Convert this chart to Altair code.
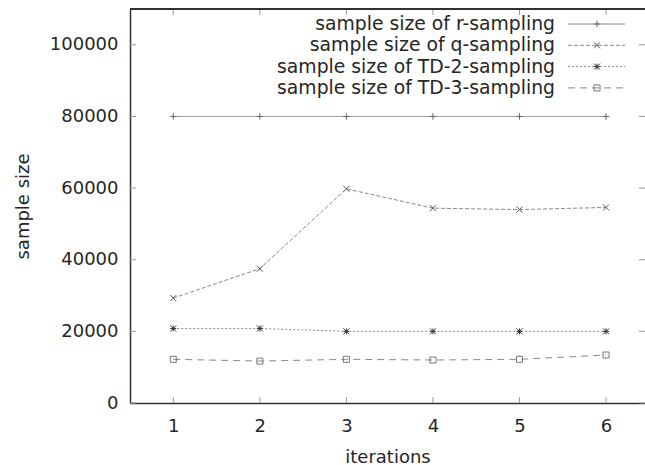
import altair as alt
import pandas as pd

# Sample sizes per iteration for each sampling method
iterations = [1, 2, 3, 4, 5, 6]
r_sampling = [80000, 80000, 80000, 80000, 80000, 80000]
q_sampling = [29300, 37500, 59800, 54400, 54000, 54600]
td2_sampling = [20800, 20800, 20000, 20000, 20000, 20000]
td3_sampling = [12200, 11700, 12200, 12000, 12200, 13400]

series_names = [
    "sample size of  r-sampling",
    "sample size of q-sampling",
    "sample size of TD-2-sampling",
    "sample size of TD-3-sampling",
]
series_values = [r_sampling, q_sampling, td2_sampling, td3_sampling]

y_ticks = [0, 20000, 40000, 60000, 80000, 100000]
x_ticks = [1, 2, 3, 4, 5, 6]

W, H = 515, 394
FONT = "DejaVu Sans"
FS = 18
TEXT = "#262626"
LINE = "#8a8a8a"

# point symbols as stroked SVG paths
plus = "M-1,0L1,0M0,-1L0,1"
cross = "M-1,-1L1,1M-1,1L1,-1"
star = "M-1,0L1,0M0,-1L0,1M-1,-1L1,1M-1,1L1,-1"
square = "M-1,-1L1,-1L1,1L-1,1Z"
styles = [
    dict(dash=[1, 0], shape=plus, mcolor="#666666", size=42),
    dict(dash=[4, 2], shape=cross, mcolor="#555555", size=36),
    dict(dash=[2, 2], shape=star, mcolor="#333333", size=36),
    dict(dash=[7, 5], shape=square, mcolor="#777777", size=36),
]

x_scale = alt.Scale(domain=[0.5, 6.45], nice=False, zero=False)
y_scale = alt.Scale(domain=[0, 110000], nice=False)
x_axis = alt.Axis(values=x_ticks, format="d", ticks=False, grid=False,
                  labelPadding=14, titlePadding=13)
y_axis = alt.Axis(values=y_ticks, format="d", ticks=False, grid=False,
                  labelPadding=12, titlePadding=17)


def X(field):
    return alt.X(field, scale=x_scale, axis=x_axis, title="iterations")


def Y(field):
    return alt.Y(field, scale=y_scale, axis=y_axis, title="sample size")


layers = []

# inward tick marks on all four sides
ytick_df = pd.DataFrame({"v": y_ticks})
xtick_df = pd.DataFrame({"v": x_ticks})
tick_color = "#9a9a9a"
layers.append(alt.Chart(ytick_df).mark_rule(color=tick_color, strokeWidth=1).encode(
    y=Y("v:Q"), x=alt.value(0), x2=alt.value(6)))
layers.append(alt.Chart(ytick_df).mark_rule(color=tick_color, strokeWidth=1).encode(
    y=Y("v:Q"), x=alt.value(W - 6), x2=alt.value(W)))
layers.append(alt.Chart(xtick_df).mark_rule(color=tick_color, strokeWidth=1).encode(
    x=X("v:Q"), y=alt.value(H - 6), y2=alt.value(H)))
layers.append(alt.Chart(xtick_df).mark_rule(color=tick_color, strokeWidth=1).encode(
    x=X("v:Q"), y=alt.value(0), y2=alt.value(6)))

# top border of the frame
layers.append(alt.Chart(xtick_df).mark_rule(color="#333333", strokeWidth=1.5).encode(
    x=alt.value(0), x2=alt.value(W), y=alt.value(0)))

# data series
for name, vals, st in zip(series_names, series_values, styles):
    df = pd.DataFrame({"x": iterations, "y": vals})
    base = alt.Chart(df).encode(x=X("x:Q"), y=Y("y:Q"))
    layers.append(base.mark_line(color=LINE, strokeWidth=1, strokeDash=st["dash"]))
    layers.append(base.mark_point(shape=st["shape"], filled=False, color=st["mcolor"],
                                  size=st["size"], strokeWidth=1, opacity=1))

# key in the upper right corner, labels to the left of the samples
for i, (name, st) in enumerate(zip(series_names, styles)):
    ky = 15 + 21.3 * i
    kdf = pd.DataFrame({"label": [name]})
    layers.append(alt.Chart(kdf).mark_text(align="right", baseline="middle", font=FONT,
                                           fontSize=18.8, color=TEXT).encode(
        text="label:N", x=alt.value(425), y=alt.value(ky)))
    layers.append(alt.Chart(kdf).mark_rule(color=LINE, strokeWidth=1, strokeDash=st["dash"]).encode(
        x=alt.value(438), x2=alt.value(495), y=alt.value(ky)))
    layers.append(alt.Chart(kdf).mark_point(shape=st["shape"], filled=False, color=st["mcolor"],
                                            size=st["size"], strokeWidth=1, opacity=1).encode(
        x=alt.value(467), y=alt.value(ky)))

chart = alt.layer(*layers).properties(
    width=W,
    height=H,
    autosize=alt.AutoSizeParams(type="none"),
    padding={"left": 130, "top": 9, "right": 0, "bottom": 62},
    background="white",
).configure_view(
    stroke=None
).configure_axis(
    domainColor="#333333",
    domainWidth=1.5,
    labelFont=FONT,
    labelFontSize=FS,
    labelColor=TEXT,
    titleFont=FONT,
    titleFontSize=FS,
    titleFontWeight="normal",
    titleColor=TEXT,
)

chart.save("out.html", embed_options={"renderer": "svg", "actions": False})
